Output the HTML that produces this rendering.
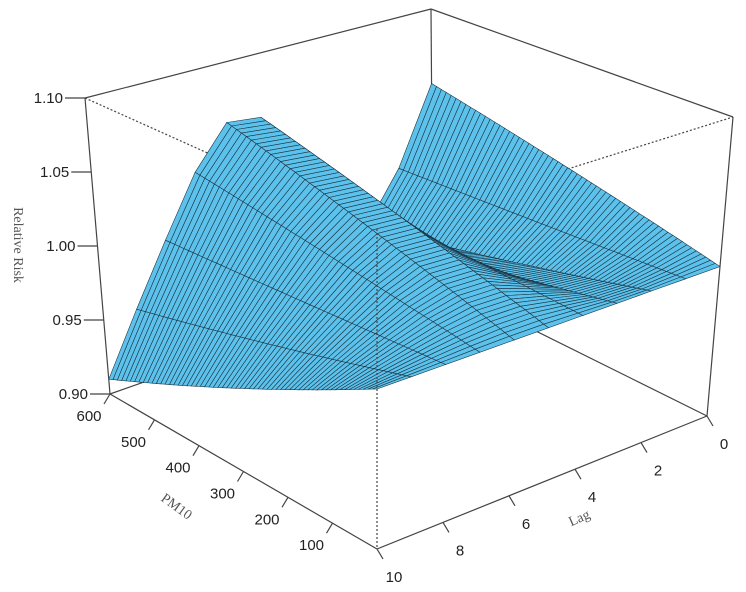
<!DOCTYPE html>
<html><head><meta charset="utf-8"><style>
html,body{margin:0;padding:0;background:#fff;}
svg{display:block;font-family:"Liberation Sans",sans-serif;}
</style></head><body>
<svg id="chart" width="746" height="592" viewBox="0 0 746 592" xmlns="http://www.w3.org/2000/svg">
<g id="under"></g>
<g id="surf"></g>
<g id="over"></g>
<g id="axes"></g>
</svg>
<script>
// data
const lags = [0,1,2,3,4,5,6,7,8,9,10];
const rrAtMaxPM = [1.045,0.99,0.955,0.965,1.01,1.055,1.058,1.03,0.99,0.95,0.91];
const pmMax = 600;
const pmTicks = [100,200,300,400,500,600];
const lagTicks = [0,2,4,6,8,10];
const zTicks = [0.90,0.95,1.00,1.05,1.10];
const zMin = 0.90, zMax = 1.10;

const NS="http://www.w3.org/2000/svg";
const Fb=[377,549],Lb=[110,394],Rb=[707,416],Bb=[433,280];
const Ft=[377,229],Lt=[85,98],Rt=[733,117],Bt=[431,9];
function bil(F,L,R,B,a,s){return [F[0]*(1-a)*(1-s)+L[0]*a*(1-s)+R[0]*(1-a)*s+B[0]*a*s, F[1]*(1-a)*(1-s)+L[1]*a*(1-s)+R[1]*(1-a)*s+B[1]*a*s];}
function proj(pm,lag,z){const a=pm/pmMax,s=(10-lag)/10,t=(z-zMin)/(zMax-zMin);
 const b=bil(Fb,Lb,Rb,Bb,a,s),u=bil(Ft,Lt,Rt,Bt,a,s);return [b[0]+t*(u[0]-b[0]),b[1]+t*(u[1]-b[1])];}
function rrLag(l){let i=Math.min(Math.floor(l),lags.length-2);const f=l-lags[i];return rrAtMaxPM[i]*(1-f)+rrAtMaxPM[i+1]*f;}
function rr(pm,lag){return Math.pow(rrLag(lag),pm/pmMax);}
function el(tag,attrs,parent){const e=document.createElementNS(NS,tag);for(const k in attrs)e.setAttribute(k,attrs[k]);parent.appendChild(e);return e;}
function line(p,q,parent,dash,name){const e=el('line',{x1:p[0],y1:p[1],x2:q[0],y2:q[1],stroke:'#444','stroke-width':1.2,'stroke-dasharray':dash||'none'},parent);
 
 }
const under=document.getElementById('under'),over=document.getElementById('over'),surf=document.getElementById('surf'),axes=document.getElementById('axes');
line(Bt,Bb,under,null,'back-vertical-edge');line(Lb,Bb,under,null,'back-left-floor-edge');line(Bb,Rb,under,null,'back-right-floor-edge');
line(Lt,Ft,under,'2,2','front-left-top-edge');line(Ft,Rt,under,'2,2','front-right-top-edge');
// surface
const NP=60,NL=10,cells=[];
for(let i=0;i<NP;i++)for(let j=0;j<NL;j++){
 const p0=pmMax*i/NP,p1=pmMax*(i+1)/NP,l0=10*j/NL,l1=10*(j+1)/NL;
 const pts=[proj(p0,l0,rr(p0,l0)),proj(p1,l0,rr(p1,l0)),proj(p1,l1,rr(p1,l1)),proj(p0,l1,rr(p0,l1))];
 const depth=((p0+p1)/2/pmMax)+((10-(l0+l1)/2)/10);
 cells.push({pts,depth});}
cells.sort((x,y)=>y.depth-x.depth);
for(const c of cells){const p=c.pts;let A=0;for(let k=0;k<4;k++){const q=p[k],r=p[(k+1)%4];A+=q[0]*r[1]-r[0]*q[1];}
 const e=el('polygon',{points:p.map(v=>v[0].toFixed(1)+','+v[1].toFixed(1)).join(' '),fill:A<0?'#5cc2ec':'#3a8cae',stroke:'#1c3646','stroke-width':0.6},surf);
 
 }
// visible box edges
line(Lt,Bt,over,null,'top-back-left-edge');line(Bt,Rt,over,null,'top-back-right-edge');
line(Lt,Lb,over,null,'z-axis-line');line(Rt,Rb,over,null,'right-vertical-edge');
line(Lb,Fb,over,null,'pm10-axis-line');line(Fb,Rb,over,null,'lag-axis-line');line(Ft,Fb,over,'2,2','front-vertical-edge');
// ticks
function txt(x,y,s,anchor,name,extra){const e=el('text',Object.assign({x:x,y:y,'font-size':15,fill:'#222','text-anchor':anchor},extra||{}),axes);e.textContent=s;
 
 return e;}
for(const z of zTicks){const p=proj(pmMax,10,z);line(p,[p[0]-20,p[1]],axes,null,'z-tick');txt(p[0]-22,p[1]+5,z.toFixed(2),'end','z-tick-label');}
for(const v of pmTicks){const p=proj(v,10,zMin);line(p,[p[0]-6,p[1]+10],axes,null,'pm10-tick');txt(p[0]-21,p[1]+27,String(v),'middle','pm10-tick-label');}
for(const v of lagTicks){const p=proj(0,v,zMin);line(p,[p[0]+6,p[1]+10],axes,null,'lag-tick');txt(p[0]+17,p[1]+33,String(v),'middle','lag-tick-label');}
txt(0,0,'Relative Risk','middle','z-axis-title',{transform:'translate(14,245) rotate(90)','font-family':'Liberation Serif, serif','font-size':14,fill:'#555'});
txt(0,0,'PM10','middle','pm10-axis-title',{transform:'translate(174,510) rotate(36)','font-family':'Liberation Serif, serif','font-size':14,fill:'#555'});
txt(0,0,'Lag','middle','lag-axis-title',{transform:'translate(581,522) rotate(-24)','font-family':'Liberation Serif, serif','font-size':14,fill:'#555'});
</script>
</body></html>
